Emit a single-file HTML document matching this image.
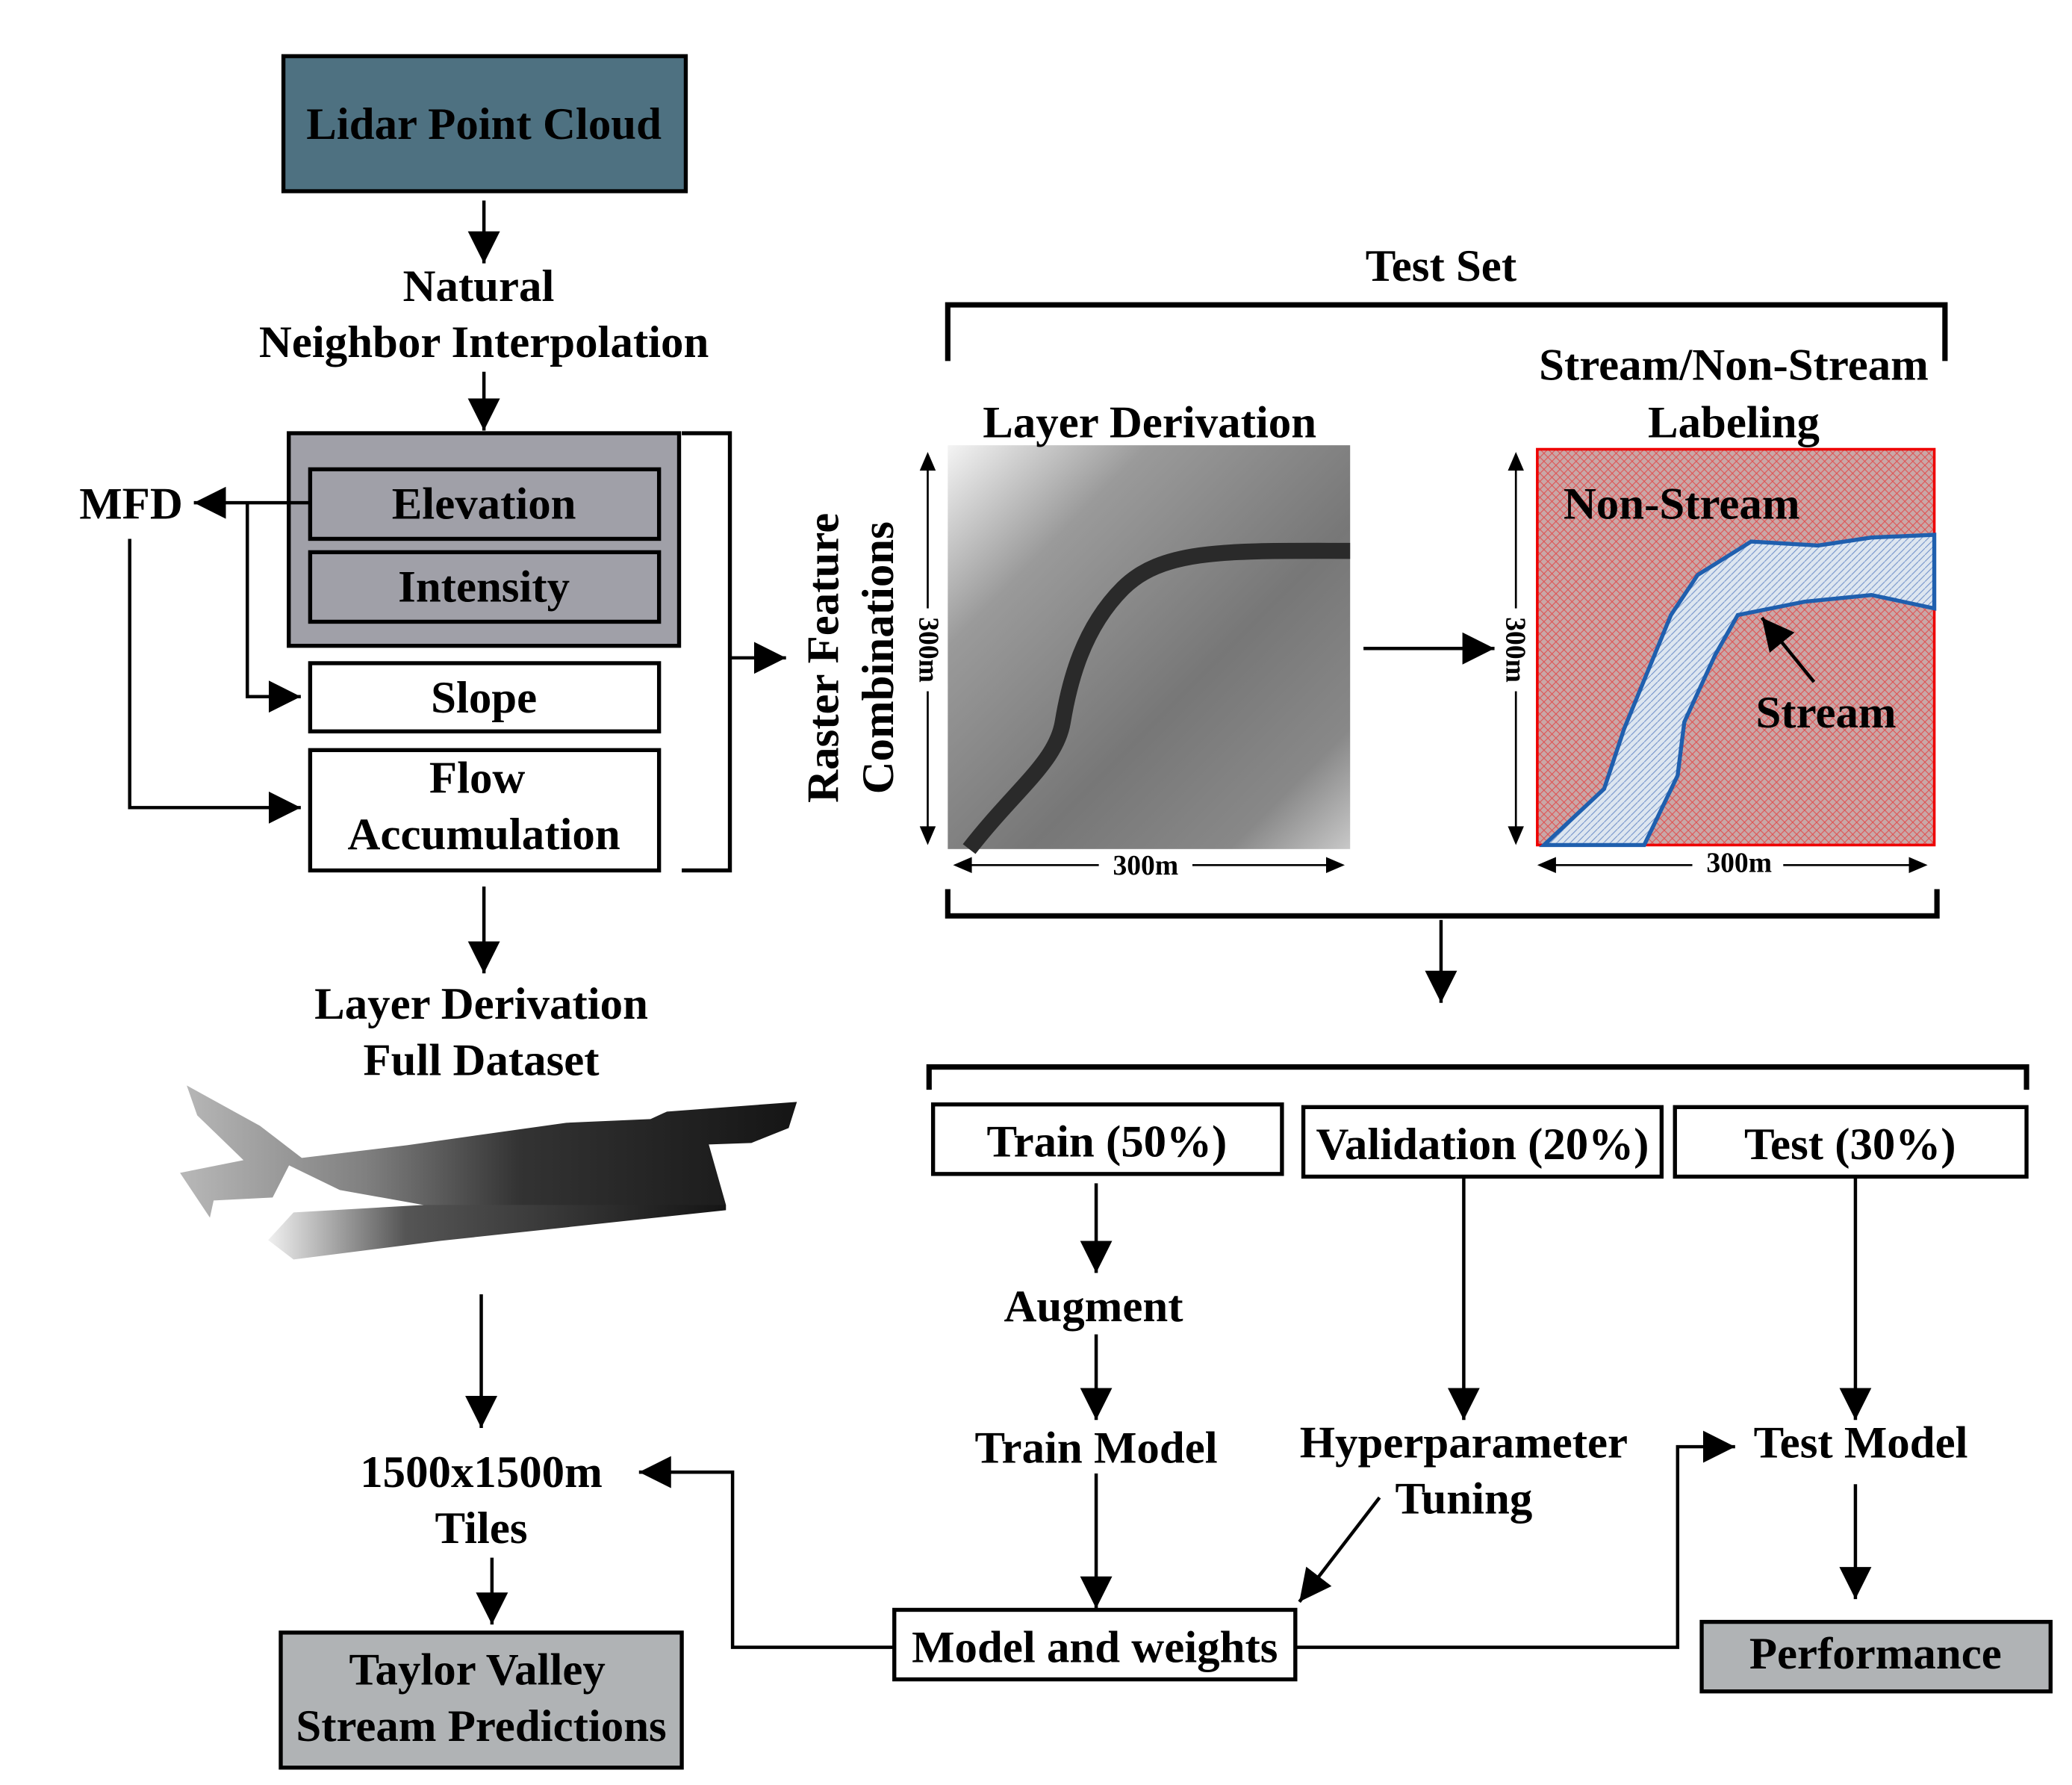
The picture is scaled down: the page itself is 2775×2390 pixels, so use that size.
<!DOCTYPE html>
<html><head><meta charset="utf-8"><style>html,body{margin:0;padding:0;background:#fff}svg{display:block}text{font-family:"Liberation Serif",serif;font-weight:bold;fill:#000}</style></head>
<body>
<svg width="2775" height="2390" viewBox="0 0 1550 1335" xmlns="http://www.w3.org/2000/svg">
<defs>
<marker id="a" viewBox="0 0 10 10" refX="10" refY="5" markerWidth="24" markerHeight="26" orient="auto" markerUnits="userSpaceOnUse"><path d="M0,0L10,5L0,10z"/></marker>
<linearGradient id="dem" x1="0" y1="0" x2="1" y2="1"><stop offset="0" stop-color="#f4f4f4"/><stop offset="0.25" stop-color="#9a9a9a"/><stop offset="0.6" stop-color="#777"/><stop offset="0.85" stop-color="#888"/><stop offset="1" stop-color="#c8c8c8"/></linearGradient>
<pattern id="hatch" width="6" height="6" patternUnits="userSpaceOnUse"><rect width="6" height="6" fill="#c9a7a7"/><path d="M0,0L6,6M6,0L0,6" stroke="#e05050" stroke-width="0.6"/></pattern>
<pattern id="bh" width="5" height="5" patternUnits="userSpaceOnUse"><rect width="5" height="5" fill="#dde6f0"/><path d="M0,5L5,0" stroke="#6f8fc8" stroke-width="0.6"/></pattern>
<linearGradient id="tg" x1="0" y1="0" x2="1" y2="0"><stop offset="0" stop-color="#b8b8b8"/><stop offset="0.3" stop-color="#808080"/><stop offset="0.55" stop-color="#333"/><stop offset="1" stop-color="#151515"/></linearGradient>
<linearGradient id="tg2" x1="0" y1="0" x2="1" y2="0"><stop offset="0" stop-color="#f0f0f0"/><stop offset="0.3" stop-color="#555"/><stop offset="1" stop-color="#151515"/></linearGradient>
</defs>
<g stroke="#000" stroke-width="3" fill="none">
<rect x="212" y="42" width="301" height="101" fill="#4e7181"/>
<rect x="216" y="324" width="292" height="159" fill="#a0a0a8"/>
<rect x="232" y="351" width="261" height="52" fill="#a0a0a8"/>
<rect x="232" y="413" width="261" height="52" fill="#a0a0a8"/>
<rect x="232" y="496" width="261" height="51" fill="#fff"/>
<rect x="232" y="561" width="261" height="90" fill="#fff"/>
<rect x="210" y="1221" width="300" height="101" fill="#b0b3b5"/>
<rect x="1273" y="1213" width="261" height="52" fill="#b0b3b5"/>
<rect x="698" y="826" width="261" height="52" fill="#fff"/>
<rect x="975" y="828" width="268" height="52" fill="#fff"/>
<rect x="1253" y="828" width="263" height="52" fill="#fff"/>
<rect x="669" y="1204" width="300" height="52" fill="#fff"/>
<path d="M510,324H546V651H510"/>
<path d="M709,270V228H1455V270" stroke-width="4"/>
<path d="M709,665V685H1449V665" stroke-width="4"/>
<path d="M695,815V798H1516V815" stroke-width="4"/>
</g>
<rect x="709" y="333" width="301" height="302" fill="url(#dem)"/>
<path d="M725,635C760,590 790,570 795,540C800,510 810,470 840,440C870,410 920,412 1010,412" stroke="#2a2a2a" stroke-width="12" fill="none"/>
<rect x="1150" y="336" width="297" height="296" fill="url(#hatch)" stroke="#e00" stroke-width="2"/>
<path d="M1155,632L1200,590L1215,545L1250,460L1270,430L1310,405L1360,408L1400,402L1447,400V455L1400,445L1350,450L1300,460L1283,490L1260,540L1255,580L1230,632Z" fill="url(#bh)" stroke="#1f5fae" stroke-width="3"/>
<g stroke="#000" stroke-width="2.5" fill="none" marker-end="url(#a)">
<path d="M362,150V197"/>
<path d="M362,278V322"/>
<path d="M232,376H145"/>
<path d="M185,376V521H225"/>
<path d="M97,403V604H225"/>
<path d="M546,492H588"/>
<path d="M362,663V728"/>
<path d="M360,968V1068"/>
<path d="M368,1165V1215"/>
<path d="M1020,485H1118"/>
<path d="M1078,688V750"/>
<path d="M820,885V952"/>
<path d="M820,998V1062"/>
<path d="M820,1102V1203"/>
<path d="M1095,880V1062"/>
<path d="M1032,1120L972,1198"/>
<path d="M1388,880V1062"/>
<path d="M1388,1110V1196"/>
<path d="M969,1232H1255V1082H1298"/>
<path d="M669,1232H548V1101H478"/>
<path d="M1357,510L1318,462"/>
</g>
<g stroke="#000" stroke-width="1.5" fill="none">
<path d="M694,345V625"/>
<path d="M1134,345V625"/>
<path d="M720,647H1000M1157,647H1436"/>
</g>
<g fill="#000">
<path d="M694,338l-6,14h12z M694,632l-6,-14h12z M1134,338l-6,14h12z M1134,632l-6,-14h12z M713,647l14,-6v12z M1006,647l-14,-6v12z M1150,647l14,-6v12z M1442,647l-14,-6v12z"/>
</g>
<rect x="822" y="637" width="70" height="20" fill="#fff"/><rect x="1266" y="637" width="68" height="20" fill="#fff"/>
<rect x="684" y="455" width="20" height="62" fill="#fff"/><rect x="1124" y="455" width="20" height="62" fill="#fff"/>
<text x="857" y="654" font-size="21" text-anchor="middle">300m</text>
<text x="1301" y="652" font-size="21" text-anchor="middle">300m</text>
<text transform="translate(688,486) rotate(90)" font-size="21" text-anchor="middle">300m</text>
<text transform="translate(1127,486) rotate(90)" font-size="21" text-anchor="middle">300m</text>
<g transform="scale(0.5587)">
<path d="M250,1453L348,1507L404,1550L545,1533L758,1503L871,1498L893,1488L1067,1475L1056,1510L1006,1530L949,1532L972,1613L876,1627L736,1636L623,1626L567,1613L455,1593L387,1560L365,1603L286,1607L281,1630L241,1570L326,1553L264,1493Z" fill="url(#tg)"/>
<path d="M359,1660L393,1623L567,1613L972,1613L972,1620L590,1661L393,1686Z" fill="url(#tg2)"/>
</g>
<g font-size="34" text-anchor="middle">
<text x="362" y="104">Lidar Point Cloud</text>
<text x="358" y="225">Natural</text>
<text x="362" y="267">Neighbor Interpolation</text>
<text x="362" y="388">Elevation</text>
<text x="362" y="450">Intensity</text>
<text x="362" y="533">Slope</text>
<text x="357" y="593">Flow</text>
<text x="362" y="635">Accumulation</text>
<text x="98" y="388">MFD</text>
<text x="360" y="762">Layer Derivation</text>
<text x="360" y="804">Full Dataset</text>
<text x="360" y="1112">1500x1500m</text>
<text x="360" y="1154">Tiles</text>
<text x="357" y="1260">Taylor Valley</text>
<text x="360" y="1302">Stream Predictions</text>
<text x="1078" y="210">Test Set</text>
<text x="1297" y="284">Stream/Non-Stream</text>
<text x="1297" y="327">Labeling</text>
<text x="860" y="327">Layer Derivation</text>
<text x="1258" y="388">Non-Stream</text>
<text x="1366" y="544">Stream</text>
<text transform="translate(627,492) rotate(-90)">Raster Feature</text>
<text transform="translate(668,492) rotate(-90)">Combinations</text>
<text x="828" y="865">Train (50%)</text>
<text x="1109" y="867">Validation (20%)</text>
<text x="1384" y="867">Test (30%)</text>
<text x="818" y="988">Augment</text>
<text x="820" y="1094">Train Model</text>
<text x="1095" y="1090">Hyperparameter</text>
<text x="1095" y="1132">Tuning</text>
<text x="1392" y="1090">Test Model</text>
<text x="819" y="1243">Model and weights</text>
<text x="1403" y="1248">Performance</text>
</g>
</svg>
</body></html>
